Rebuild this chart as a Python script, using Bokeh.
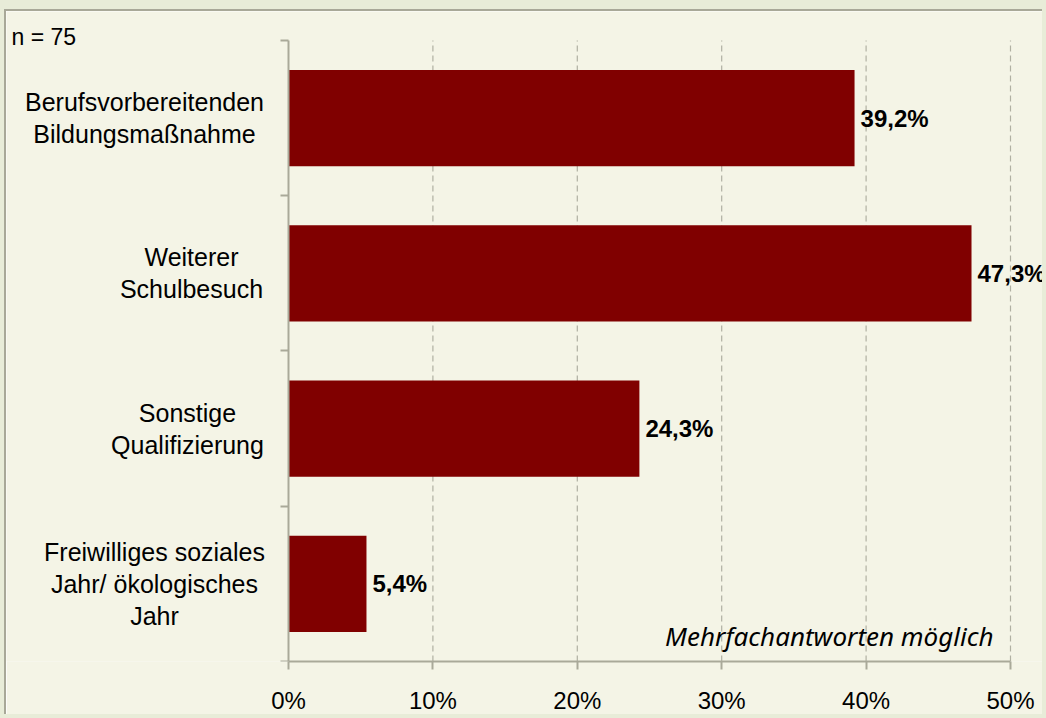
from bokeh.plotting import figure
from bokeh.models import ColumnDataSource, Label, FixedTicker, Range1d, LinearAxis
from bokeh.embed import file_html
from bokeh.resources import INLINE
from bokeh.core.properties import value

# ---- data ----
categories = [
    "Berufsvorbereitenden\nBildungsmaßnahme",
    "Weiterer\nSchulbesuch",
    "Sonstige\nQualifizierung",
    "Freiwilliges soziales\nJahr/ ökologisches\nJahr",
]
values = [39.2, 47.3, 24.3, 5.4]
value_labels = ["39,2%", "47,3%", "24,3%", "5,4%"]
x_ticks = [0, 10, 20, 30, 40, 50]
x_tick_labels = ["0%", "10%", "20%", "30%", "40%", "50%"]
sample_note = "n = 75"
footnote = "Mehrfachantworten möglich"

# ---- layout / style ----
label_offset_px = [-144, -97, -101, -134]  # centre of each category label block, px left of the axis
W, H = 1038, 705
PLOT_LEFT_PX = 282      # axis position inside the canvas
PLOT_W_PX = 722         # 0..50 %
PLOT_TOP_PX = 29
PLOT_H_PX = 622
BG = "#f4f4e6"
OUTER = "#e8ecd8"
BAR = "#800000"
AXIS = "#a9a999"
GRID = "#b0b0a2"
FONT = "Liberation Sans"

n = len(categories)
xmax = x_ticks[-1]
ypos = [n - 0.5 - i for i in range(n)]

px_per_x = PLOT_W_PX / xmax
px_per_y = PLOT_H_PX / n
bottom_border = H - PLOT_TOP_PX - PLOT_H_PX
x_start = -PLOT_LEFT_PX / px_per_x
x_end = (W - PLOT_LEFT_PX) / px_per_x
y_end = n + PLOT_TOP_PX / px_per_y

src = ColumnDataSource(dict(y=ypos, v=values, lab=value_labels))
cat_src = ColumnDataSource(dict(y=ypos, x=[0] * n, off=label_offset_px, cat=categories))
grid_src = ColumnDataSource(dict(x=x_ticks[1:], y0=[0] * (len(x_ticks) - 1), y1=[n] * (len(x_ticks) - 1)))

p = figure(
    width=W, height=H,
    x_range=Range1d(x_start, x_end), y_range=Range1d(0, y_end),
    output_backend="svg", toolbar_location=None,
    y_axis_location=None,
    min_border_left=0, min_border_right=0,
    min_border_top=0, min_border_bottom=bottom_border,
)
p.styles = {
    "margin-left": "4px", "margin-top": "9px",
    "border-left": "2px solid #a8a898", "border-top": "2px solid #a8a898",
    "box-shadow": "0 0 0 12px " + OUTER,
}
p.background_fill_color = BG
p.border_fill_color = BG
p.outline_line_color = None
p.grid.visible = False

# dashed vertical grid lines
p.segment(x0="x", y0="y0", x1="x", y1="y1", source=grid_src,
          line_color=GRID, line_dash="6 4", line_width=1.2)

p.hbar(y="y", right="v", left=0, height=0.62, source=src,
       fill_color=BAR, line_color=None)

# x axis
xa = p.xaxis[0]
xa.bounds = (x_ticks[0], x_ticks[-1])
xa.ticker = FixedTicker(ticks=x_ticks)
xa.major_label_overrides = {t: l for t, l in zip(x_ticks, x_tick_labels)}
xa.axis_line_color = AXIS
xa.axis_line_width = 2
xa.major_tick_line_color = AXIS
xa.major_tick_line_width = 2
xa.major_tick_out = 8
xa.major_tick_in = 0
xa.minor_tick_line_color = None
xa.major_label_standoff = 17
xa.major_label_text_font = FONT
xa.major_label_text_font_size = "24px"
xa.major_label_text_color = "#000000"

# y axis at x = 0, ticks at category boundaries
ya = LinearAxis(fixed_location=0, bounds=(0, n))
ya.ticker = FixedTicker(ticks=list(range(n + 1)))
ya.major_label_overrides = {i: "" for i in range(n + 1)}
ya.axis_line_color = AXIS
ya.axis_line_width = 2
ya.major_tick_line_color = AXIS
ya.major_tick_line_width = 2
ya.major_tick_out = 8
ya.major_tick_in = 0
ya.minor_tick_line_color = None
p.add_layout(ya, "left")

# category labels
p.text(x="x", y="y", text="cat", source=cat_src, x_offset="off",
       text_align="center", text_baseline="middle",
       text_font=value(FONT), text_font_size="25px", text_color="#000000",
       text_line_height=1.15)

# value labels
p.text(x="v", y="y", text="lab", source=src, x_offset=6,
       text_align="left", text_baseline="middle",
       text_font=value(FONT), text_font_size="24px", text_font_style="bold",
       text_color="#000000")

p.add_layout(Label(
    x=5, y=PLOT_H_PX + PLOT_TOP_PX - 26, x_units="screen", y_units="screen", text=sample_note,
    text_align="left", text_baseline="middle",
    text_font=FONT, text_font_size="23px", text_color="#000000",
))

p.add_layout(Label(
    x=PLOT_LEFT_PX + 705, y=26, x_units="screen", y_units="screen", text=footnote,
    text_align="right", text_baseline="middle",
    text_font="Noto Sans", text_font_size="26px", text_font_style="italic",
    text_color="#000000",
))

open("out.html", "w").write(file_html(p, INLINE))
